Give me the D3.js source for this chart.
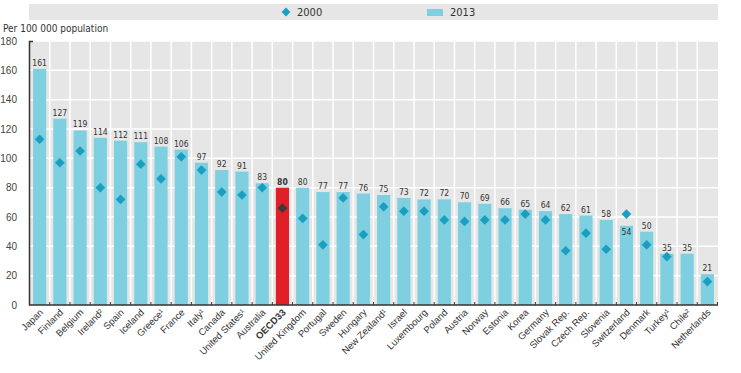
<!DOCTYPE html>
<html>
<head>
<meta charset="utf-8">
<script src="https://cdn.jsdelivr.net/npm/d3@7"></script>
<style>
  body { margin: 0; background: #fff; }
  svg { display: block; font-family: "Liberation Sans Narrow", "DejaVu Sans Condensed", "Liberation Sans", sans-serif; }
</style>
</head>
<body>
<div class="viz"></div>
<script>
// countries, in the order of the chart
const countries = ['Japan', 'Finland', 'Belgium', 'Ireland²', 'Spain', 'Iceland', 'Greece¹', 'France', 'Italy¹', 'Canada',
  'United States¹', 'Australia', 'OECD33', 'United Kingdom', 'Portugal', 'Sweden', 'Hungary', 'New Zealand¹', 'Israel',
  'Luxembourg', 'Poland', 'Austria', 'Norway', 'Estonia', 'Korea', 'Germany', 'Slovak Rep.', 'Czech Rep.', 'Slovenia',
  'Switzerland', 'Denmark', 'Turkey¹', 'Chile²', 'Netherlands'];
// 2013 values (bars)
const values2013 = [161, 127, 119, 114, 112, 111, 108, 106, 97, 92, 91, 83, 80, 80, 77, 77, 76, 75, 73, 72, 72, 70, 69,
  66, 65, 64, 62, 61, 58, 54, 50, 35, 35, 21];
// 2000 values (diamonds), null where missing
const values2000 = [113, 97, 105, 80, 72, 96, 86, 101, 92, 77, 75, 80, 66, 59, 41, 73, 48, 67, 64, 64, 58, 57, 58,
  58, 62, 58, 37, 49, 38, 62, 41, 33, null, 16];
const yTicks = [0, 20, 40, 60, 80, 100, 120, 140, 160, 180];
const highlight = 'OECD33';

const W = 741;
const H = 373;
const margin = { top: 41, right: 23, bottom: 68, left: 29 };
const width = W - margin.left - margin.right;
const height = H - margin.top - margin.bottom;

const svg = d3.select('.viz')
  .append('svg')
  .attr('width', W)
  .attr('height', H);

// legend strip
const legend = svg.append('g');
legend.append('rect')
  .attr('x', margin.left).attr('y', 4)
  .attr('width', width).attr('height', 16)
  .attr('fill', '#e6e6e6');
legend.append('path')
  .attr('d', d3.symbol(d3.symbolDiamond2, 50)())
  .attr('transform', 'translate(286 12)')
  .attr('fill', '#1a9fc0');
legend.append('text')
  .attr('x', 297).attr('y', 16)
  .attr('font-size', 11).attr('fill', '#333')
  .text('2000');
legend.append('rect')
  .attr('x', 427).attr('y', 9)
  .attr('width', 16).attr('height', 7)
  .attr('fill', '#7ecfe0');
legend.append('text')
  .attr('x', 450).attr('y', 16)
  .attr('font-size', 11).attr('fill', '#333')
  .text('2013');

svg.append('text')
  .attr('x', 3).attr('y', 32)
  .attr('font-size', 10).attr('fill', '#333')
  .text('Per 100 000 population');

const g = svg.append('g')
  .attr('transform', `translate(${margin.left} ${margin.top})`);

const x = d3.scaleBand()
  .domain(countries)
  .range([0, width])
  .paddingInner(0.35)
  .paddingOuter(0.2);

const y = d3.scaleLinear()
  .domain([0, 180])
  .range([height, 0]);

// plot background
g.append('rect')
  .attr('width', width).attr('height', height)
  .attr('fill', '#e6e6e6');

// white grid: horizontal lines at each tick
g.append('g')
  .selectAll('line')
  .data(yTicks.slice(1))
  .join('line')
  .attr('x1', 0).attr('x2', width)
  .attr('y1', d => y(d)).attr('y2', d => y(d))
  .attr('stroke', '#fff').attr('stroke-width', 1.5);

// white grid: vertical lines between bands
const step = x.step();
const bounds = countries.slice(1).map(c => x(c) - step * x.paddingInner() / 2);
g.append('g')
  .selectAll('line')
  .data(bounds)
  .join('line')
  .attr('x1', d => d).attr('x2', d => d)
  .attr('y1', 0).attr('y2', height)
  .attr('stroke', '#fff').attr('stroke-width', 1.5);

// bars
g.append('g')
  .selectAll('rect')
  .data(countries)
  .join('rect')
  .attr('x', d => x(d))
  .attr('y', (d, i) => y(values2013[i]))
  .attr('width', x.bandwidth())
  .attr('height', (d, i) => height - y(values2013[i]))
  .attr('fill', d => (d === highlight ? '#e11f26' : '#7ecfe0'));

// value labels
g.append('g')
  .selectAll('text')
  .data(countries)
  .join('text')
  .attr('x', d => x(d) + x.bandwidth() / 2)
  .attr('y', (d, i) => {
    let yy = y(values2013[i]) - 3;
    // Switzerland's label sits below its diamond
    if (values2000[i] !== null && values2000[i] > values2013[i]) yy = y(values2013[i]) + 9;
    return yy;
  })
  .attr('text-anchor', 'middle')
  .attr('font-size', 8.5)
  .attr('font-weight', d => (d === highlight ? 'bold' : 'normal'))
  .attr('fill', '#333')
  .text((d, i) => values2013[i]);

// diamonds for 2000
g.append('g')
  .selectAll('path')
  .data(countries.filter((d, i) => values2000[i] !== null))
  .join('path')
  .attr('d', d3.symbol(d3.symbolDiamond2, 60)())
  .attr('transform', d => {
    const i = countries.indexOf(d);
    return `translate(${x(d) + x.bandwidth() / 2} ${y(values2000[i])})`;
  })
  .attr('fill', d => (d === highlight ? '#3a3a3a' : '#1a9fc0'));

// y axis
const yAxis = g.append('g')
  .call(d3.axisLeft(y).tickValues(yTicks).tickSize(0).tickPadding(12));
yAxis.select('.domain').remove();
yAxis.selectAll('text')
  .attr('font-size', 10)
  .attr('fill', '#444')
  .attr('font-family', 'inherit');

// axis lines: left bracket and baseline
g.append('path')
  .attr('d', `M4 0.5 H0.5 V${height} H${width}`)
  .attr('fill', 'none')
  .attr('stroke', '#333')
  .attr('stroke-width', 1.5);

// small ticks at band boundaries on the baseline
g.append('g')
  .selectAll('line')
  .data(bounds.concat([width - 0.5]))
  .join('line')
  .attr('x1', d => d).attr('x2', d => d)
  .attr('y1', height - 3).attr('y2', height)
  .attr('stroke', '#333');

// x labels, rotated
const xAxis = g.append('g')
  .attr('transform', `translate(0 ${height})`)
  .call(d3.axisBottom(x).tickSize(0).tickPadding(0));
xAxis.select('.domain').remove();
xAxis.selectAll('text')
  .attr('font-size', 9.5)
  .attr('fill', '#333')
  .attr('font-family', 'inherit')
  .attr('font-weight', d => (d === highlight ? 'bold' : 'normal'))
  .attr('text-anchor', 'end')
  .attr('dy', 0)
  .attr('transform', 'translate(4 8) rotate(-45)');
</script>
</body>
</html>
